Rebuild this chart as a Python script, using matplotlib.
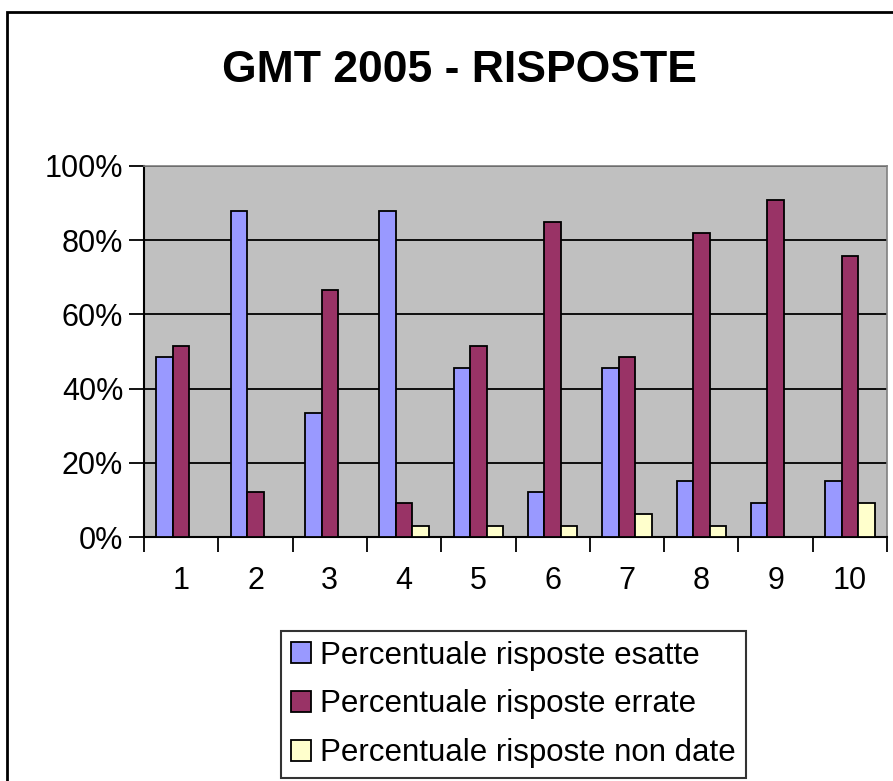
import matplotlib.pyplot as plt
import numpy as np

plt.rcParams['font.family'] = ['Liberation Sans', 'DejaVu Sans']

domande = ['1', '2', '3', '4', '5', '6', '7', '8', '9', '10']
esatte = [48.5, 87.9, 33.3, 87.9, 45.5, 12.1, 45.5, 15.2, 9.1, 15.2]
errate = [51.5, 12.1, 66.7, 9.1, 51.5, 84.8, 48.5, 81.8, 90.9, 75.8]
non_date = [0.0, 0.0, 0.0, 3.0, 3.0, 3.0, 6.1, 3.0, 0.0, 9.1]

fig = plt.figure(figsize=(8.93, 7.81), dpi=100)
ax = fig.add_axes([0.1613, 0.3124, 0.832, 0.4751])

x = np.arange(len(domande))
w = 0.222
kw = dict(edgecolor='black', linewidth=1.3, zorder=3)
ax.bar(x - w, esatte, w, color='#9999FF', label='Percentuale risposte esatte', **kw)
ax.bar(x, errate, w, color='#993366', label='Percentuale risposte errate', **kw)
ax.bar(x + w, non_date, w, color='#FFFFCC', label='Percentuale risposte non date', **kw)

ax.set_facecolor('#C0C0C0')
ax.set_xlim(-0.5, len(domande) - 0.5)
ax.set_ylim(0, 100)
ax.set_yticks(range(0, 101, 20))
ax.set_yticklabels([f'{v}%' for v in range(0, 101, 20)], fontsize=22)
ax.yaxis.grid(True, color='black', linewidth=1.3, zorder=1)
ax.set_axisbelow(True)

ax.set_xticks(np.arange(-0.5, len(domande), 1.0))
ax.set_xticklabels([])
ax.set_xticks(x, minor=True)
ax.set_xticklabels(domande, minor=True, fontsize=22)
ax.tick_params(axis='x', which='major', direction='out', length=11, width=1.3, color='black')
ax.tick_params(axis='x', which='minor', length=0, pad=21)
ax.tick_params(axis='y', direction='out', length=11, width=1.3, pad=4)

for s in ['left', 'bottom']:
    ax.spines[s].set_color('black')
    ax.spines[s].set_linewidth(1.5)
for s in ['top', 'right']:
    ax.spines[s].set_color('#808080')
    ax.spines[s].set_linewidth(1.2)

fig.text(0.515, 0.91, 'GMT 2005 - RISPOSTE', fontsize=32, fontweight='bold',
         ha='center', va='center')

handles, labels = ax.get_legend_handles_labels()
leg = fig.legend(handles, labels, loc='center', bbox_to_anchor=(0.575, 0.098),
                 fontsize=22.5, frameon=True, fancybox=False, edgecolor='black',
                 handlelength=0.65, handleheight=0.65, handletextpad=0.3,
                 labelspacing=0.6, borderpad=0.3, borderaxespad=0)
leg.get_frame().set_linewidth(1.5)

# cornice esterna del grafico
fig.add_artist(plt.Rectangle((7 / 893, -0.1), 1.2, 1 - 12 / 781 + 0.1,
                             transform=fig.transFigure, fill=False,
                             edgecolor='black', linewidth=2))

fig.savefig('out.png', dpi=100)
